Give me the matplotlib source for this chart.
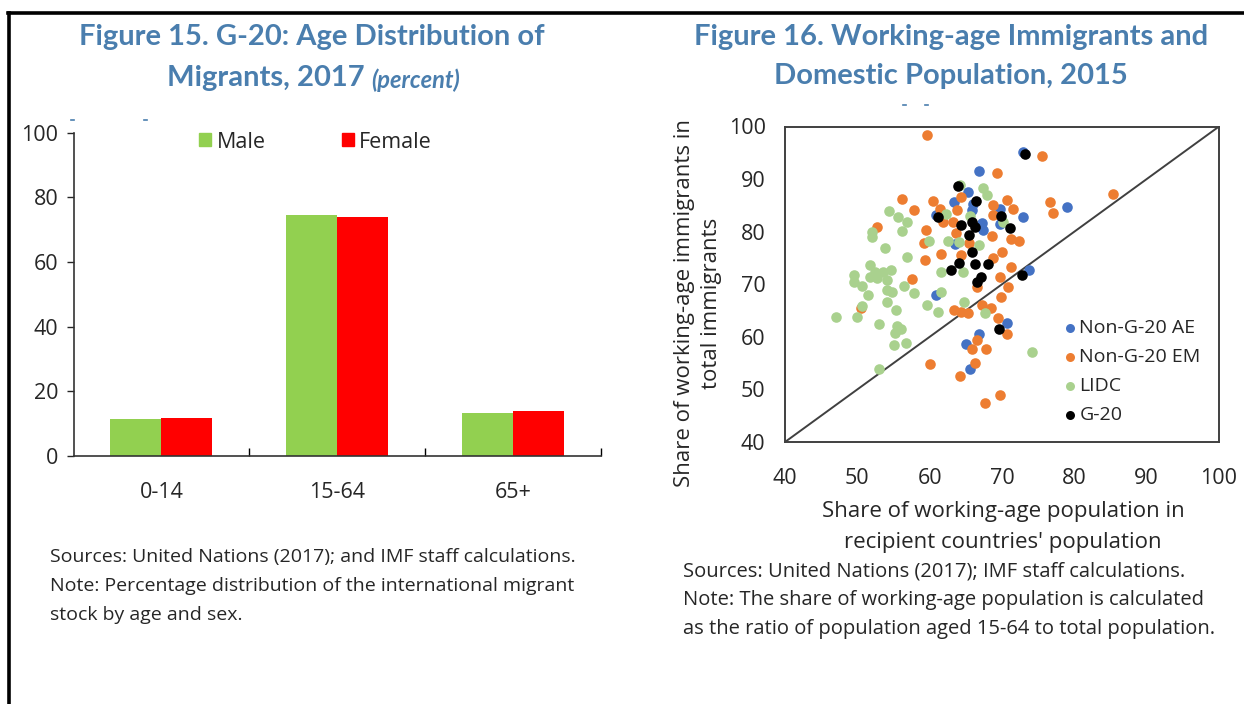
"""
Figure 15 / Figure 16: age distribution of migrants (bars) and
working-age immigrants vs. domestic population (scatter).
"""

import matplotlib
matplotlib.use("Agg")
import matplotlib.pyplot as plt
from matplotlib.lines import Line2D
from matplotlib.patches import Patch
import numpy as np

# ── data: figure 15 ───────────────────────────────────────────────────────────
AGE_GROUPS = ["0-14", "15-64", "65+"]
MALE = [11.4, 74.6, 13.2]
FEMALE = [11.8, 73.8, 14.0]

# ── data: figure 16 (x = working-age share of population, y = working-age share of immigrants)
AE_X = [72.9, 66.8, 65.3, 63.3, 66.0, 60.9, 67.2, 67.4, 63.5, 69.7, 69.7, 79.0,
        72.9, 73.8, 70.7, 60.9, 66.8, 65.0, 65.6, 65.8]
AE_Y = [95.2, 91.6, 87.6, 85.6, 85.2, 83.2, 81.6, 80.3, 77.7, 81.5, 84.4, 84.6,
        82.7, 72.7, 62.7, 68.0, 60.6, 58.6, 53.8, 84.1]

EM_X = [59.7, 69.3, 75.5, 85.3, 76.7, 77.1, 70.7, 71.5, 71.2, 72.3, 70.0, 71.3,
        69.7, 70.8, 69.9, 69.4, 70.7, 69.7, 67.7, 56.2, 57.9, 60.5, 61.4, 64.3,
        63.8, 61.8, 63.2, 68.7, 68.8, 52.7, 59.5, 63.6, 68.6, 59.2, 61.6, 59.4,
        64.4, 65.4, 68.8, 57.5, 50.5, 63.3, 64.4, 65.3, 67.2, 68.5, 66.6, 65.9,
        67.8, 66.2, 60.0, 64.2, 66.5]
EM_Y = [98.3, 91.1, 94.4, 87.2, 85.7, 83.6, 86.0, 84.3, 78.7, 78.3, 76.2, 73.2,
        71.3, 69.5, 67.6, 63.5, 60.5, 48.9, 47.5, 86.3, 84.1, 85.8, 84.4, 86.6,
        84.1, 81.9, 81.9, 85.1, 83.2, 80.8, 80.4, 79.7, 79.1, 77.8, 75.7, 74.7,
        75.6, 77.8, 74.9, 71.0, 65.5, 65.1, 64.8, 64.5, 66.1, 65.4, 59.4, 57.6,
        57.6, 55.1, 54.8, 52.5, 69.5]

LIDC_X = [67.4, 67.9, 54.4, 55.6, 56.8, 56.2, 52.0, 52.0, 53.8, 56.9, 59.9, 62.6,
          64.0, 62.3, 65.6, 66.8, 51.7, 52.4, 53.6, 54.7, 49.5, 52.7, 61.6, 64.6,
          49.5, 50.6, 54.1, 54.1, 54.8, 56.5, 57.9, 51.5, 50.6, 54.1, 55.4, 47.1,
          50.0, 53.0, 55.5, 56.0, 55.2, 55.0, 56.7, 53.0, 59.7, 61.1, 61.6, 64.8,
          67.7, 74.2, 70.2, 51.8, 64.2]
LIDC_Y = [88.3, 87.0, 84.0, 82.7, 81.9, 80.2, 80.0, 78.9, 76.8, 75.2, 78.2, 78.2,
          78.0, 83.4, 83.0, 77.5, 73.7, 72.4, 72.4, 72.8, 71.8, 71.1, 72.4, 72.4,
          70.5, 69.7, 70.8, 68.9, 68.6, 69.7, 68.3, 68.0, 65.9, 66.6, 65.1, 63.7,
          63.7, 62.4, 62.1, 61.4, 60.7, 58.4, 58.8, 53.8, 66.1, 64.8, 68.6, 66.6,
          64.5, 57.1, 81.9, 71.4, 88.9]

G20_X = [73.2, 63.9, 66.4, 61.1, 64.4, 65.8, 66.2, 65.5, 69.9, 71.1, 65.8, 64.1,
         66.2, 68.0, 62.9, 67.1, 66.6, 72.7, 69.6]
G20_Y = [94.8, 88.6, 85.8, 82.7, 81.3, 81.9, 80.9, 79.4, 83.0, 80.7, 76.1, 74.1,
         73.9, 73.8, 72.7, 71.4, 70.5, 71.8, 61.5]

SCATTER_TICKS = [40, 50, 60, 70, 80, 90, 100]

# ── style ─────────────────────────────────────────────────────────────────────
W, H = 1244, 704
TITLE_COLOR = "#4A7EAE"
TEXT_COLOR = "#262626"
FONT = ["Open Sans", "DejaVu Sans"]
TITLE_FONT = ["Lato", "DejaVu Sans"]
TICK_SIZE = 15.5
TITLE_SIZE = 21

plt.rcParams["font.family"] = FONT


def fx(px):
    return px / W


def fy(py):
    return 1 - py / H


fig = plt.figure(figsize=(W / 100, H / 100), dpi=100)

# page frame (left and top rule)
fig.add_artist(Line2D([fx(9), fx(9)], [fy(13), 0], color="black", lw=2.6))
fig.add_artist(Line2D([fx(8), 1], [fy(13), fy(13)], color="black", lw=2.6))

# cropped remnants of the subtitle rows (tiny blue marks)
for px in (72, 145, 904, 926):
    py = 120 if px < 600 else 105
    fig.add_artist(Line2D([fx(px - 1.5), fx(px + 1.5)], [fy(py), fy(py)],
                          color=TITLE_COLOR, lw=1.2))

# ═══════════════════════════════════════════════════════════════════════════════
# Figure 15 – bars
# ═══════════════════════════════════════════════════════════════════════════════
fig.text(fx(312), fy(37), "Figure 15. G-20: Age Distribution of", ha="center",
         va="center", fontsize=TITLE_SIZE, fontweight="bold", color=TITLE_COLOR,
         family=TITLE_FONT)
fig.text(fx(365), fy(78), "Migrants, 2017", ha="right", va="center",
         fontsize=TITLE_SIZE, fontweight="bold", color=TITLE_COLOR, family=TITLE_FONT)
fig.text(fx(371), fy(80), "(percent)", ha="left", va="center", fontsize=17,
         fontweight="bold", style="italic", color=TITLE_COLOR, family=TITLE_FONT)

ax1 = fig.add_axes([fx(73.5), fy(456), fx(601) - fx(73.5), fy(132.7) - fy(456)])
x = np.arange(len(AGE_GROUPS))
bw = 0.29
ax1.bar(x - bw / 2, MALE, width=bw, color="#92D050", label="Male")
ax1.bar(x + bw / 2, FEMALE, width=bw, color="#FF0000", label="Female")

ax1.set_xlim(-0.5, len(AGE_GROUPS) - 0.5)
ax1.set_ylim(0, 100)
ax1.set_yticks([0, 20, 40, 60, 80, 100])
ax1.set_xticks(x)
ax1.set_xticklabels(AGE_GROUPS)
ax1.set_xticks(np.arange(0.5, len(AGE_GROUPS), 1.0), minor=True)
ax1.tick_params(axis="x", which="major", length=0, pad=19, labelsize=TICK_SIZE,
                colors=TEXT_COLOR)
ax1.tick_params(axis="x", which="minor", direction="in", length=6, width=1)
ax1.tick_params(axis="y", direction="out", length=5, width=1, pad=6,
                labelsize=TICK_SIZE, colors=TEXT_COLOR)
for side in ("top", "right"):
    ax1.spines[side].set_visible(False)
for side in ("left", "bottom"):
    ax1.spines[side].set_color("#333333")
    ax1.spines[side].set_linewidth(1.2)

handles = [Patch(color="#92D050"), Patch(color="#FF0000")]
fig.legend(handles, ["Male", "Female"], loc="center left",
           bbox_to_anchor=(fx(180), fy(142)), ncol=2, frameon=False,
           fontsize=TICK_SIZE, handlelength=0.55, handleheight=0.55,
           handletextpad=0.25, columnspacing=3.55, labelcolor=TEXT_COLOR)

fig.text(fx(50), fy(557), "Sources: United Nations (2017); and IMF staff calculations.",
         ha="left", va="center", fontsize=14, color=TEXT_COLOR)
fig.text(fx(50), fy(586), "Note: Percentage distribution of the international migrant",
         ha="left", va="center", fontsize=14, color=TEXT_COLOR)
fig.text(fx(50), fy(615), "stock by age and sex.",
         ha="left", va="center", fontsize=14, color=TEXT_COLOR)

# ═══════════════════════════════════════════════════════════════════════════════
# Figure 16 – scatter
# ═══════════════════════════════════════════════════════════════════════════════
fig.text(fx(951), fy(37), "Figure 16. Working-age Immigrants and", ha="center",
         va="center", fontsize=TITLE_SIZE, fontweight="bold", color=TITLE_COLOR,
         family=TITLE_FONT)
fig.text(fx(951), fy(76), "Domestic Population, 2015", ha="center",
         va="center", fontsize=TITLE_SIZE, fontweight="bold", color=TITLE_COLOR,
         family=TITLE_FONT)

ax2 = fig.add_axes([fx(785), fy(442), fx(1219) - fx(785), fy(126.5) - fy(442)])
ms = 58
ax2.scatter(AE_X, AE_Y, s=ms, color="#4472C4", linewidths=0, label="Non-G-20 AE", zorder=3)
ax2.scatter(EM_X, EM_Y, s=ms, color="#ED7D31", linewidths=0, label="Non-G-20 EM", zorder=3)
ax2.scatter(LIDC_X, LIDC_Y, s=ms, color="#A9D18E", linewidths=0, label="LIDC", zorder=3)
ax2.scatter(G20_X, G20_Y, s=ms, color="#000000", linewidths=0, label="G-20", zorder=3)
ax2.plot([SCATTER_TICKS[0], SCATTER_TICKS[-1]], [SCATTER_TICKS[0], SCATTER_TICKS[-1]],
         color="#404040", lw=1.4, zorder=2)

ax2.set_xlim(SCATTER_TICKS[0], SCATTER_TICKS[-1])
ax2.set_ylim(SCATTER_TICKS[0], SCATTER_TICKS[-1])
ax2.set_xticks(SCATTER_TICKS)
ax2.set_yticks(SCATTER_TICKS)
ax2.tick_params(length=0, labelsize=TICK_SIZE, colors=TEXT_COLOR)
ax2.tick_params(axis="x", pad=19)
ax2.tick_params(axis="y", pad=14)
for sp in ax2.spines.values():
    sp.set_color("#404040")
    sp.set_linewidth(1.4)

ax2.legend(loc="upper left", bbox_to_anchor=(fx(1055), fy(309)),
           bbox_transform=fig.transFigure, frameon=False, fontsize=14,
           handlelength=0.55, handletextpad=0.2, labelspacing=0.57,
           borderpad=0, markerscale=0.85, labelcolor=TEXT_COLOR)

fig.text(fx(698), fy(303), "Share of working-age immigrants in\ntotal immigrants",
         ha="center", va="center", rotation=90, fontsize=16, color=TEXT_COLOR,
         linespacing=1.35)
fig.text(fx(1003), fy(527), "Share of working-age population in\nrecipient countries' population",
         ha="center", va="center", fontsize=16, color=TEXT_COLOR, linespacing=1.6)

fig.text(fx(683), fy(572), "Sources: United Nations (2017); IMF staff calculations.",
         ha="left", va="center", fontsize=14.5, color=TEXT_COLOR)
fig.text(fx(683), fy(600), "Note: The share of working-age population is calculated",
         ha="left", va="center", fontsize=14.5, color=TEXT_COLOR)
fig.text(fx(683), fy(629), "as the ratio of population aged 15-64 to total population.",
         ha="left", va="center", fontsize=14.5, color=TEXT_COLOR)

fig.savefig("out.png", dpi=100)
plt.close(fig)
